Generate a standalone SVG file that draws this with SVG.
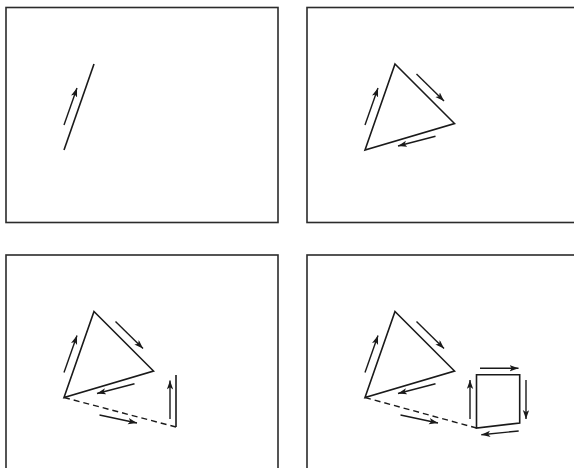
<svg xmlns="http://www.w3.org/2000/svg" width="574" height="468" viewBox="0 0 574 468">
<style>
.frame{fill:none;stroke:#2b2b2b;stroke-width:1.6}
.shape{fill:none;stroke:#1a1a1a;stroke-width:1.6;stroke-linejoin:miter}
.dash{fill:none;stroke:#1a1a1a;stroke-width:1.4;stroke-dasharray:6 4}
.arr{fill:none;stroke:#1a1a1a;stroke-width:1.4;marker-end:url(#ah)}
</style>
<defs>
<marker id="ah" markerUnits="userSpaceOnUse" markerWidth="11" markerHeight="8" refX="9" refY="3.2" orient="auto">
<path d="M0,0 L9,3.2 L0,6.4 L2.2,3.2 z" fill="#1a1a1a"/>
</marker>
</defs>
<rect width="574" height="468" fill="#fff"/>
<g id="panel1">
<rect class="frame" x="6" y="7.5" width="272" height="215"/>
<line class="shape" x1="64" y1="150" x2="94" y2="64"/>
<line class="arr" x1="64" y1="125" x2="77" y2="88"/>
</g>
<g id="panel2">
<rect class="frame" x="307" y="7.5" width="280" height="215"/>
<polygon class="shape" points="395,64 454.5,123.5 365,150"/>
<line class="arr" x1="365" y1="125" x2="378" y2="88"/>
<line class="arr" x1="416.5" y1="74" x2="444" y2="101"/>
<line class="arr" x1="435.5" y1="136.3" x2="398" y2="146"/>
</g>
<g id="panel3">
<rect class="frame" x="6" y="255" width="272" height="230"/>
<polygon class="shape" points="94,311.5 153.5,371 64,397.5"/>
<line class="arr" x1="64" y1="372.5" x2="77" y2="335.5"/>
<line class="arr" x1="115.5" y1="321.5" x2="143" y2="348.5"/>
<line class="arr" x1="134.5" y1="383.8" x2="97" y2="393.5"/>
<line class="dash" x1="64" y1="397.5" x2="176" y2="427"/>
<line class="shape" x1="176" y1="375" x2="176" y2="427"/>
<line class="arr" x1="170" y1="419" x2="170" y2="380.5"/>
<line class="arr" x1="99.5" y1="415" x2="137" y2="423"/>
</g>
<g id="panel4">
<rect class="frame" x="307" y="255" width="280" height="230"/>
<polygon class="shape" points="395,311.5 454.5,371 365,397.5"/>
<line class="arr" x1="365" y1="372.5" x2="378" y2="335.5"/>
<line class="arr" x1="416.5" y1="321.5" x2="444" y2="348.5"/>
<line class="arr" x1="435.5" y1="383.8" x2="398" y2="393.5"/>
<line class="dash" x1="365" y1="397.5" x2="476.5" y2="428"/>
<polygon class="shape" points="476.5,374.7 519.7,374.7 519.7,423 476.5,428"/>
<line class="arr" x1="400.5" y1="415" x2="438" y2="423"/>
<line class="arr" x1="470" y1="419" x2="470" y2="380"/>
<line class="arr" x1="480" y1="368.3" x2="518.5" y2="368.3"/>
<line class="arr" x1="526" y1="380" x2="526" y2="419"/>
<line class="arr" x1="518.7" y1="431" x2="481.3" y2="434.7"/>
</g>
</svg>
